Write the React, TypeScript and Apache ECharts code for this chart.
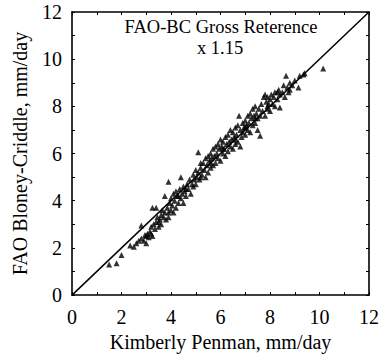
import React, { useEffect, useRef } from "react";
import * as echarts from "echarts";

const xTicks = [0, 2, 4, 6, 8, 10, 12];
const titleLines = ["FAO-BC Gross Reterence", "x 1.15"];
const xName = "Kimberly Penman, mm/day";
const yName = "FAO Bloney-Criddle, mm/day";
const refLine = [[0, 0], [12, 12]];

const points: number[][] = [
  [1.5, 1.3], [1.8, 1.35], [2.0, 1.7], [2.35, 2.1], [2.5, 2.05], [2.6, 2.2], [2.7, 2.3], [2.8, 2.95], [2.8, 2.4],
  [2.9, 2.3], [2.95, 2.55], [3.0, 2.2], [3.05, 2.6], [3.1, 2.45], [3.15, 2.7], [3.2, 2.9], [3.25, 3.7], [3.4, 3.7],
  [3.25, 2.5], [3.3, 3.0], [3.35, 2.8], [3.4, 3.1], [3.45, 3.3], [3.5, 2.9], [3.55, 3.2], [3.6, 3.4], [3.6, 3.0],
  [3.65, 3.6], [3.7, 3.3], [3.75, 4.2], [3.75, 3.5], [3.8, 3.2], [3.85, 3.7], [3.9, 4.8], [3.9, 3.5], [3.95, 3.9],
  [4.0, 3.6], [4.0, 4.1], [4.05, 3.8], [4.1, 4.3], [4.1, 3.5], [4.15, 4.0], [4.2, 3.7], [4.2, 4.4], [4.25, 4.2],
  [4.3, 3.9], [4.35, 4.5], [4.4, 5.0], [4.4, 4.1], [4.45, 4.3], [4.5, 4.6], [4.5, 3.9], [4.55, 4.4], [4.6, 4.2],
  [4.65, 4.7], [4.7, 4.5], [4.75, 4.9], [4.8, 4.3], [4.85, 4.7], [4.9, 5.1], [4.9, 4.6], [4.95, 4.9], [5.0, 5.3],
  [5.0, 4.7], [5.05, 5.0], [5.1, 6.05], [5.2, 5.6], [5.1, 5.2], [5.15, 4.9], [5.2, 5.4], [5.25, 5.1], [5.3, 5.6],
  [5.35, 5.3], [5.4, 5.8], [5.4, 5.0], [5.45, 5.5], [5.5, 5.9], [5.5, 5.2], [5.55, 5.7], [5.6, 6.0], [5.6, 5.4],
  [5.65, 5.8], [5.7, 6.2], [5.7, 5.5], [5.75, 5.9], [5.8, 6.3], [5.8, 5.6], [5.85, 6.0], [5.9, 6.4], [5.9, 5.8],
  [5.95, 6.2], [6.0, 6.6], [6.0, 5.7], [6.05, 6.3], [6.1, 6.0], [6.1, 6.5], [6.15, 6.2], [6.2, 6.7], [6.2, 5.9],
  [6.25, 6.4], [6.3, 6.1], [6.3, 6.8], [6.35, 6.5], [6.4, 7.0], [6.4, 6.3], [6.45, 6.6], [6.5, 6.9], [6.5, 6.2],
  [6.55, 6.7], [6.6, 6.4], [6.6, 7.1], [6.65, 6.8], [6.7, 7.2], [6.75, 7.6], [6.7, 6.5], [6.8, 6.3], [6.8, 7.0],
  [6.85, 6.7], [6.9, 7.3], [6.9, 6.9], [6.95, 7.1], [7.0, 7.4], [7.0, 6.8], [7.05, 7.2], [7.1, 7.6], [7.1, 7.0],
  [7.15, 7.3], [7.2, 7.7], [7.2, 6.9], [7.25, 7.5], [7.3, 7.2], [7.3, 7.9], [7.35, 7.6], [7.4, 7.3], [7.4, 8.0],
  [7.45, 7.7], [7.5, 7.5], [7.5, 7.0], [7.55, 7.9], [7.6, 6.75], [7.6, 7.6], [7.65, 8.1], [7.7, 7.8], [7.75, 8.4],
  [7.8, 8.5], [7.8, 7.6], [7.85, 8.2], [7.9, 7.9], [7.9, 8.4], [7.95, 8.1], [8.0, 8.3], [8.0, 7.8], [8.05, 8.5],
  [8.1, 8.1], [8.15, 8.4], [8.2, 8.6], [8.2, 8.0], [8.3, 8.3], [8.35, 8.7], [8.4, 7.95], [8.4, 8.5], [8.5, 8.6],
  [8.55, 8.9], [8.6, 8.4], [8.65, 9.3], [8.7, 8.8], [8.75, 8.6], [8.8, 9.0], [8.9, 8.9], [9.0, 9.1], [9.15, 8.8],
  [9.2, 9.3], [9.35, 9.35], [9.4, 9.4], [10.15, 9.6],
  [3.0, 2.5], [3.2, 2.6], [3.5, 3.1], [3.9, 3.3], [4.3, 4.2], [4.6, 4.5], [5.2, 5.0], [5.6, 5.6], [6.1, 6.2],
  [6.6, 6.6], [7.0, 7.1], [7.4, 7.5], [7.9, 8.0], [8.3, 8.6], [8.8, 8.7],
];

const FONT = "Liberation Serif";

export default function App() {
  const ref = useRef<HTMLDivElement>(null);
  useEffect(() => {
    const chart = echarts.init(ref.current!, null, { renderer: "svg" });
    const axisCommon = {
      type: "value" as const,
      min: 0,
      max: 12,
      interval: 2,
      axisLine: { show: true, onZero: false, lineStyle: { color: "#000", width: 1.6 } },
      axisTick: { show: true, inside: true, length: 3, lineStyle: { color: "#000" } },
      minorTick: { show: true, splitNumber: 2, length: 3, lineStyle: { color: "#000" } },
      splitLine: { show: false },
    };
    chart.setOption({
      animation: false,
      backgroundColor: "#fff",
      grid: { left: 72, right: 10, top: 12, bottom: 60 },
      graphic: [
        {
          type: "text",
          x: 221,
          y: 27,
          style: { text: titleLines[0], font: `18.5px '${FONT}'`, fill: "#000", textAlign: "center", textVerticalAlign: "middle" },
        },
        {
          type: "text",
          x: 220,
          y: 48,
          style: { text: titleLines[1], font: `18.5px '${FONT}'`, fill: "#000", textAlign: "center", textVerticalAlign: "middle" },
        },
      ],
      xAxis: [
        {
          ...axisCommon,
          position: "bottom",
          name: xName,
          nameLocation: "middle",
          nameGap: 30,
          nameTextStyle: { fontFamily: FONT, fontSize: 20, color: "#000" },
          axisLabel: {
            margin: 12,
            fontFamily: FONT,
            fontSize: 20,
            color: "#000",
            formatter: (v: number) => (xTicks.includes(v) ? String(v) : ""),
          },
        },
        { ...axisCommon, position: "top", axisLabel: { show: false } },
      ],
      yAxis: [
        {
          ...axisCommon,
          position: "left",
          name: yName,
          nameLocation: "middle",
          nameGap: 42,
          nameTextStyle: { fontFamily: FONT, fontSize: 20, color: "#000" },
          axisLabel: { margin: 10, fontFamily: FONT, fontSize: 20, color: "#000" },
        },
        { ...axisCommon, position: "right", axisLabel: { show: false } },
      ],
      series: [
        {
          type: "line",
          data: refLine,
          symbol: "none",
          lineStyle: { color: "#000", width: 1.5 },
          z: 1,
        },
        {
          type: "scatter",
          data: points,
          symbol: "triangle",
          symbolSize: 6,
          itemStyle: { color: "#000" },
          z: 2,
        },
      ],
    });
    return () => chart.dispose();
  }, []);
  return <div ref={ref} style={{ position: "absolute", left: 0, top: 0, width: 382, height: 357 }} />;
}
